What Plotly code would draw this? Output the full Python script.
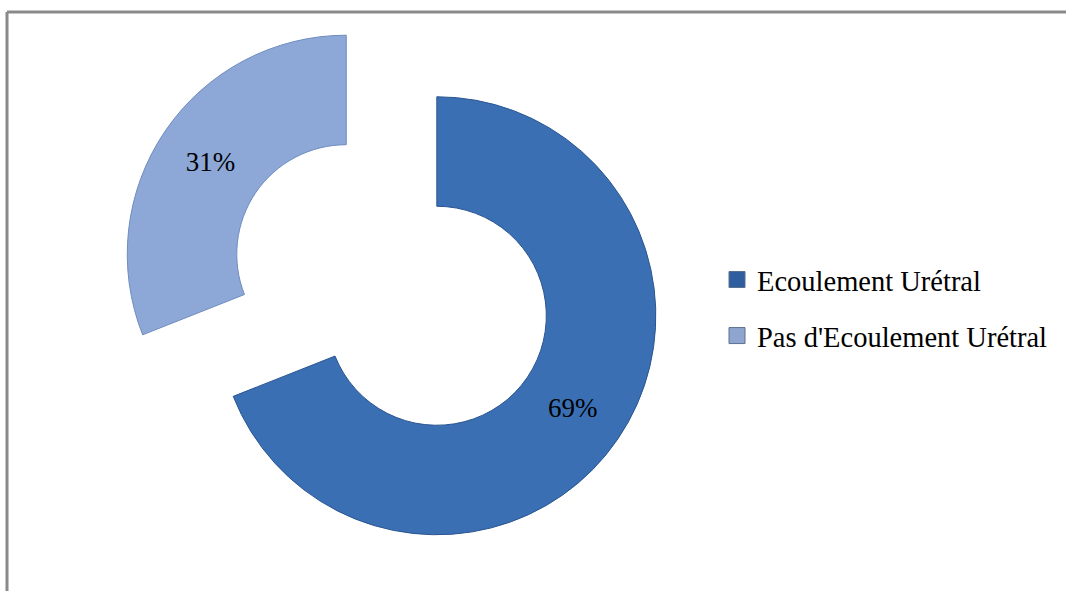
import plotly.graph_objects as go

# Share of patients with / without urethral discharge
labels = ["Ecoulement Urétral", "Pas d'Ecoulement Urétral"]
values = [69, 31]
slice_colors = ["#3A6FB4", "#8DA8D7"]
edge_colors = ["#2B5590", "#6E8CBF"]
legend_colors = ["#2F5E9E", "#8EA6CF"]

W, H = 1066, 591
serif = "Liberation Serif, Times New Roman, serif"

fig = go.Figure()

fig.add_trace(go.Pie(
    labels=labels,
    values=values,
    sort=False,
    direction="clockwise",
    rotation=0,
    hole=0.50,
    pull=[0.25, 0.25],
    marker=dict(colors=slice_colors, line=dict(color=edge_colors, width=1)),
    texttemplate="%{percent:.0%}",
    textposition="inside",
    insidetextorientation="horizontal",
    textfont=dict(family=serif, size=27, color="black"),
    showlegend=False,
    hoverinfo="label+percent",
    domain=dict(x=[0.1105, 0.6241], y=[0.0546, 0.9810]),
))

# Legend entries, one group per category so the rows can be spaced apart
for i, (lab, col) in enumerate(zip(labels, legend_colors)):
    fig.add_trace(go.Scatter(
        x=[None], y=[None],
        mode="markers",
        name=lab,
        legendgroup=f"g{i}",
        marker=dict(symbol="square", size=16, color=col,
                    line=dict(color="#5a6f8f", width=1)),
        showlegend=True,
        hoverinfo="skip",
    ))

fig.update_layout(
    width=W, height=H,
    margin=dict(l=0, r=0, t=0, b=0),
    paper_bgcolor="white",
    plot_bgcolor="white",
    xaxis=dict(visible=False),
    yaxis=dict(visible=False),
    legend=dict(
        x=717 / W, xanchor="left",
        y=1 - 308 / H, yanchor="middle",
        font=dict(family=serif, size=28.5, color="black"),
        itemsizing="trace",
        tracegroupgap=16,
        bgcolor="rgba(0,0,0,0)",
    ),
    shapes=[
        dict(type="line", xref="paper", yref="paper",
             x0=7 / W, x1=1.0, y0=1 - 12 / H, y1=1 - 12 / H,
             line=dict(color="#8A8A8A", width=3)),
        dict(type="line", xref="paper", yref="paper",
             x0=7 / W, x1=7 / W, y0=1 - 12 / H, y1=0,
             line=dict(color="#8A8A8A", width=3)),
    ],
)

fig.write_html("out.html")
